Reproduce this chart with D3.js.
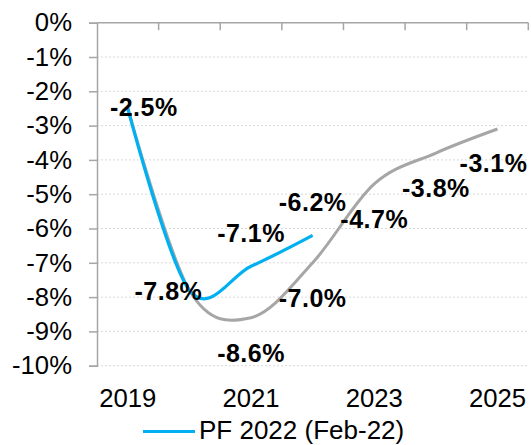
<!DOCTYPE html>
<html>
<head>
<meta charset="utf-8">
<script src="https://cdn.jsdelivr.net/npm/d3@7"></script>
<style>
  html, body { margin: 0; padding: 0; background: #fff; }
  svg { display: block; font-family: "Liberation Sans", Arial, sans-serif; }
</style>
</head>
<body>
<svg id="chart" width="531" height="445"></svg>
<script>
// ---- data ----
const years = [2019, 2020, 2021, 2022, 2023, 2024, 2025];
const yearTickLabels = ["2019", "2021", "2023", "2025"];
const pf2022 = [-2.5, -7.8, -7.1, -6.2];                    // PF 2022 (Feb-22)
const previous = [-2.5, -7.8, -8.6, -7.0, -4.7, -3.8, -3.1]; // earlier projection (grey)
const yTicks = [0, -1, -2, -3, -4, -5, -6, -7, -8, -9, -10];
const legendLabel = "PF 2022 (Feb-22)";

// ---- label placement (not data) ----
const pfLabelOffsets = [[16, 7.5], [-21, 10], [0, 8 - 32], [0, 8 - 32]];
const prevLabelOffsets = [null, null, [0, 44], [0, 44], [0, 44], [0, 44], [-4, 43]];

const svg = d3.select("#chart");
const pLeft = 97, pRight = 528.3, pTop = 22.7, pBottom = 365.7;

const x = d3.scaleBand().domain(years).range([pLeft, pRight]).padding(0);
const y = d3.scaleLinear().domain([-10, 0]).range([pBottom, pTop]);
const cx = yr => x(yr) + x.bandwidth() / 2;

// gridlines
svg.append("g").selectAll("line")
  .data(yTicks.filter(t => t !== 0))
  .join("line")
  .attr("x1", pLeft).attr("x2", pRight)
  .attr("y1", d => y(d)).attr("y2", d => y(d))
  .attr("stroke", "#d9d9d9").attr("stroke-width", 1)
  .attr("stroke-dasharray", "2,2");

// y axis
const yAxis = d3.axisLeft(y).tickValues(yTicks).tickSize(8).tickPadding(17)
  .tickFormat(d => d + "%");
const gy = svg.append("g").attr("transform", `translate(${pLeft},0)`).call(yAxis);
gy.select(".domain").attr("stroke", "#a6a6a6").attr("stroke-width", 1.5);
gy.selectAll(".tick line").attr("stroke", "#a6a6a6").attr("stroke-width", 1.5);
gy.selectAll(".tick text").attr("font-size", 25.7).attr("fill", "#000")
  .attr("font-family", "Liberation Sans, Arial, sans-serif");

// x axis line at 0 (top) with category boundary ticks
const boundaries = years.map(yr => x(yr) + x.bandwidth()).filter(v => v > pLeft + 1);
svg.append("line").attr("x1", pLeft).attr("x2", pRight).attr("y1", pTop).attr("y2", pTop)
  .attr("stroke", "#a6a6a6").attr("stroke-width", 1.5);
svg.append("g").selectAll("line").data(boundaries).join("line")
  .attr("x1", d => d).attr("x2", d => d).attr("y1", pTop).attr("y2", pTop + 7.5)
  .attr("stroke", "#a6a6a6").attr("stroke-width", 1.5);

// x labels at bottom
svg.append("g").selectAll("text").data(yearTickLabels).join("text")
  .attr("x", d => cx(+d)).attr("y", 406.7)
  .attr("text-anchor", "middle").attr("font-size", 25.7).attr("fill", "#000")
  .text(d => d);

// lines
const line = d3.line().x(d => cx(d.year)).y(d => y(d.v)).curve(d3.curveCardinal.tension(0));
const prevData = previous.map((v, i) => ({ year: years[i], v }));
const pfData = pf2022.map((v, i) => ({ year: years[i], v }));

svg.append("path").datum(prevData).attr("d", line)
  .attr("fill", "none").attr("stroke", "#a6a6a6").attr("stroke-width", 3);
svg.append("path").datum(pfData).attr("d", line)
  .attr("fill", "none").attr("stroke", "#00b0f0").attr("stroke-width", 3.2);

// data labels
const fmt = v => v.toFixed(1) + "%";
function addLabels(data, offsets) {
  svg.append("g").selectAll("text")
    .data(data.map((d, i) => ({ ...d, off: offsets[i] })).filter(d => d.off))
    .join("text")
    .attr("x", d => cx(d.year) + d.off[0])
    .attr("y", d => y(d.v) + d.off[1])
    .attr("text-anchor", "middle")
    .attr("font-size", 25).attr("font-weight", "bold").attr("fill", "#000")
    .attr("letter-spacing", 0.5)
    .text(d => fmt(d.v));
}
addLabels(prevData, prevLabelOffsets);
addLabels(pfData, pfLabelOffsets);

// legend
svg.append("line").attr("x1", 143).attr("x2", 195).attr("y1", 431.5).attr("y2", 431.5)
  .attr("stroke", "#00b0f0").attr("stroke-width", 3.2);
svg.append("text").attr("x", 199).attr("y", 439).attr("font-size", 26).attr("fill", "#000")
  .text(legendLabel);
</script>
</body>
</html>
